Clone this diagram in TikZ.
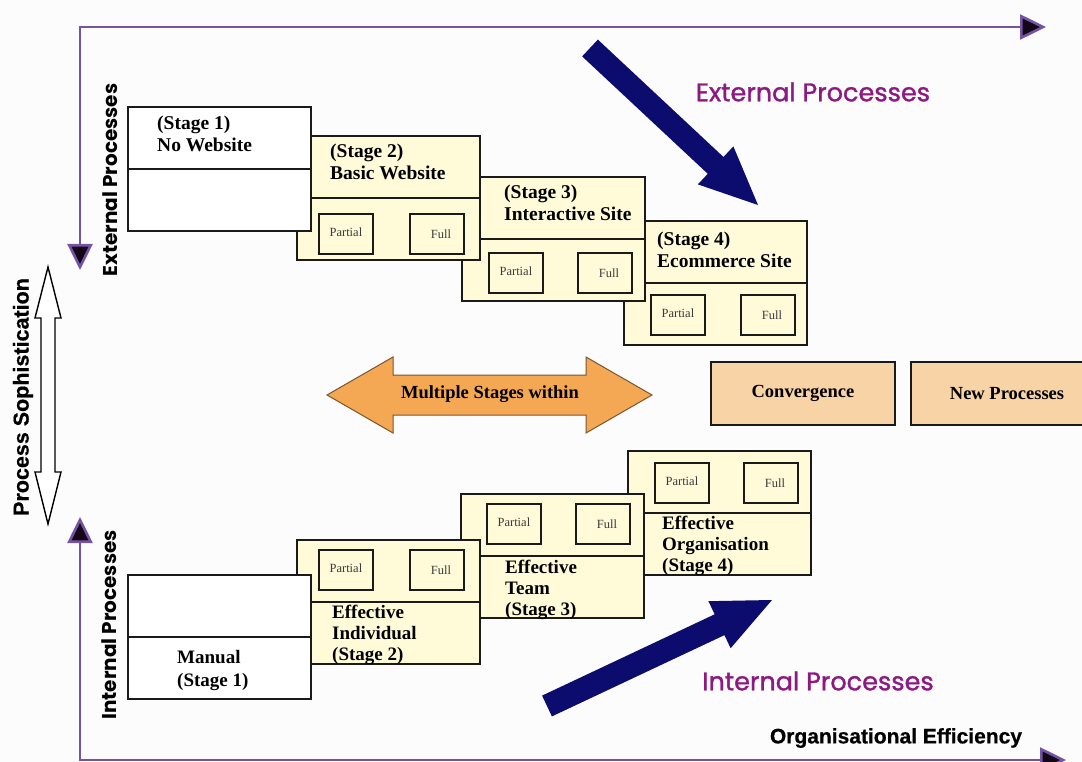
\documentclass[tikz,border=0pt]{standalone}
\usepackage{fontspec}
\setmainfont{Liberation Serif}
\newfontfamily\geo{Poppins}
\newfontfamily\geosemi[FakeBold=1.3]{Poppins}
\newfontfamily\arialbold[FakeBold=0.6]{Liberation Sans Bold}
\usetikzlibrary{arrows.meta,calc}

\definecolor{paper}{HTML}{FCFCFC}
\definecolor{axisline}{HTML}{7553A3}
\definecolor{axistip}{HTML}{140518}
\definecolor{cream}{HTML}{FFFBD9}
\definecolor{peach}{HTML}{F8D3A6}
\definecolor{orangefill}{HTML}{F4A853}
\definecolor{orangeedge}{HTML}{7A5530}
\definecolor{navy}{HTML}{0C0C6E}
\definecolor{plum}{HTML}{8C1A82}
\definecolor{boxedge}{HTML}{1A1A1A}
\definecolor{smalltext}{HTML}{3A3A3A}

\tikzset{axtip/.tip={Triangle[width=25pt,length=26pt,fill=axistip]}}

\begin{document}
\begin{tikzpicture}[x=1pt,y=-1pt,
  axis/.style={draw=axisline, line width=2.6pt, line join=miter},
  stagebox/.style={draw=boxedge, line width=1.8pt, fill=cream, anchor=north west,
    inner sep=0pt, minimum width=183, minimum height=124},
  whitebox/.style={stagebox, fill=white},
  choicebox/.style={draw=boxedge, line width=1.8pt, fill=cream, anchor=north west,
    inner sep=0pt, minimum width=54, minimum height=40,
    font=\fontsize{12.5}{14}\selectfont, text=smalltext},
  stagetext/.style={anchor=north west, inner sep=0pt, align=left,
    font=\fontsize{19.5}{22}\selectfont\bfseries},
  stagetextlow/.style={stagetext, font=\fontsize{19}{21}\selectfont\bfseries},
  sidelabel/.style={rotate=90, inner sep=0pt, font=\geo\bfseries\fontsize{20}{22}\selectfont},
  sophlabel/.style={rotate=90, inner sep=0pt, font=\arialbold\fontsize{21.5}{24}\selectfont},
  bigpurple/.style={inner sep=0pt, text=plum, font=\geosemi\fontsize{25.5}{28}\selectfont},
  peachbox/.style={draw=boxedge, line width=1.5pt, fill=peach, inner sep=0pt,
    minimum height=63, font=\fontsize{18.5}{22}\selectfont\bfseries},
  bluearrow/.style={fill=navy}
]
% canvas
\clip (0,0) rectangle (1082,762);
\fill[paper] (0,0) rectangle (1082,762);

% ---------- axes ----------
\coordinate (extdown) at (80,270);
\coordinate (extright) at (1046,27);
\coordinate (intup) at (80,517);
\coordinate (intright) at (1066,760);
\draw[axis, axtip-axtip] (extdown) |- (extright);
\draw[axis, axtip-axtip] (intup) |- (intright);

\node[sidelabel] (extlabel) at (110,180) {External Processes};
\node[sidelabel] (intlabel) at (109,625) {Internal Processes};
\node[sophlabel] (soph) at (23,397) {Process Sophistication};
\node[inner sep=0pt, font=\arialbold\fontsize{21}{24}\selectfont] (effic) at (896,738) {Organisational Efficiency};

% hollow double arrow for sophistication
\draw[line width=1.4pt, fill=white, line join=miter]
  (48,267) -- (61,318) -- (55,318) -- (55,472) -- (61,472) -- (48,524)
  -- (35,472) -- (41,472) -- (41,318) -- (35,318) -- cycle;

% ---------- external process stages (drawn back to front) ----------
\node[stagebox] (e4) at (623,220) {};
\draw[line width=1.8pt, boxedge] (e4.west) -- (e4.east);
\node[choicebox] (e4p) at (650,294) {\raisebox{3pt}{Partial}};
\node[choicebox] (e4f) at (740,294) {\hspace*{8pt}Full};
\node[stagetext] (e4t) at (657,232) {(Stage 4)\\Ecommerce Site};

\node[stagebox] (e3) at (461,176) {};
\draw[line width=1.8pt, boxedge] (e3.west) -- (e3.east);
\node[choicebox] (e3p) at (488,252) {\raisebox{3pt}{Partial}};
\node[choicebox] (e3f) at (577,252) {\hspace*{8pt}Full};
\node[stagetext] (e3t) at (504,185) {(Stage 3)\\Interactive Site};

\node[stagebox] (e2) at (296,135) {};
\draw[line width=1.8pt, boxedge] (e2.west) -- (e2.east);
\node[choicebox] (e2p) at (318,213) {\raisebox{3pt}{Partial}};
\node[choicebox] (e2f) at (409,213) {\hspace*{8pt}Full};
\node[stagetext] (e2t) at (330,144) {(Stage 2)\\Basic Website};

\node[whitebox] (e1) at (127,106) {};
\draw[line width=1.8pt, boxedge] (e1.west) -- (e1.east);
\node[stagetext] (e1t) at (157,116) {(Stage 1)\\No Website};

% ---------- internal process stages (drawn back to front) ----------
\node[stagebox] (i4) at (627,450) {};
\draw[line width=1.8pt, boxedge] (i4.west) -- (i4.east);
\node[choicebox] (i4p) at (654,462) {\raisebox{3pt}{Partial}};
\node[choicebox] (i4f) at (743,462) {\hspace*{8pt}Full};
\node[stagetextlow] (i4t) at (662,516) {Effective\\Organisation\\(Stage 4)};

\node[stagebox] (i3) at (460,493) {};
\draw[line width=1.8pt, boxedge] (i3.west) -- (i3.east);
\node[choicebox] (i3p) at (486,503) {\raisebox{3pt}{Partial}};
\node[choicebox] (i3f) at (575,503) {\hspace*{8pt}Full};
\node[stagetextlow] (i3t) at (505,560) {Effective\\Team\\(Stage 3)};

\node[stagebox] (i2) at (296,539) {};
\draw[line width=1.8pt, boxedge] (i2.west) -- (i2.east);
\node[choicebox] (i2p) at (318,549) {\raisebox{3pt}{Partial}};
\node[choicebox] (i2f) at (409,549) {\hspace*{8pt}Full};
\node[stagetextlow] (i2t) at (332,605) {Effective\\Individual\\(Stage 2)};

\node[whitebox] (i1) at (127,574) {};
\draw[line width=1.8pt, boxedge] (i1.west) -- (i1.east);
\node[stagetext, font=\fontsize{19}{23}\selectfont\bfseries] (i1t) at (177,650) {Manual\\(Stage 1)};

% ---------- middle band ----------
\draw[orangeedge, line width=1pt, fill=orangefill, line join=miter]
  (327,395) -- (393,357) -- (393,375) -- (586,375) -- (586,357) -- (652,395)
  -- (586,433) -- (586,415) -- (393,415) -- (393,433) -- cycle;
\node[inner sep=0pt, font=\fontsize{18.5}{22}\selectfont\bfseries] (multi) at (490,394) {Multiple Stages within};

\node[peachbox, minimum width=184] (conv) at (803,393.5) {Convergence};
\node[peachbox, minimum width=192] (newp) at (1007,393.5) {New Processes};

% ---------- direction arrows ----------
\coordinate (bt1) at (590,48);
\coordinate (bh1) at (758,205);
\coordinate (bb1) at ($(bh1)!58pt!(bt1)$);
\fill[bluearrow] ($(bt1)!11.5pt!90:(bh1)$) -- ($(bb1)!11.5pt!90:(bh1)$) -- ($(bb1)!26pt!90:(bh1)$)
  -- (bh1) -- ($(bb1)!26pt!-90:(bh1)$) -- ($(bb1)!11.5pt!-90:(bh1)$) -- ($(bt1)!11.5pt!-90:(bh1)$) -- cycle;

\coordinate (bt2) at (547,706);
\coordinate (bh2) at (772,600);
\coordinate (bb2) at ($(bh2)!58pt!(bt2)$);
\fill[bluearrow] ($(bt2)!11.5pt!90:(bh2)$) -- ($(bb2)!11.5pt!90:(bh2)$) -- ($(bb2)!26pt!90:(bh2)$)
  -- (bh2) -- ($(bb2)!26pt!-90:(bh2)$) -- ($(bb2)!11.5pt!-90:(bh2)$) -- ($(bt2)!11.5pt!-90:(bh2)$) -- cycle;

\node[bigpurple] (extbig) at (813,92) {External Processes};
\node[bigpurple] (intbig) at (818,681) {Internal Processes};
\end{tikzpicture}
\end{document}
